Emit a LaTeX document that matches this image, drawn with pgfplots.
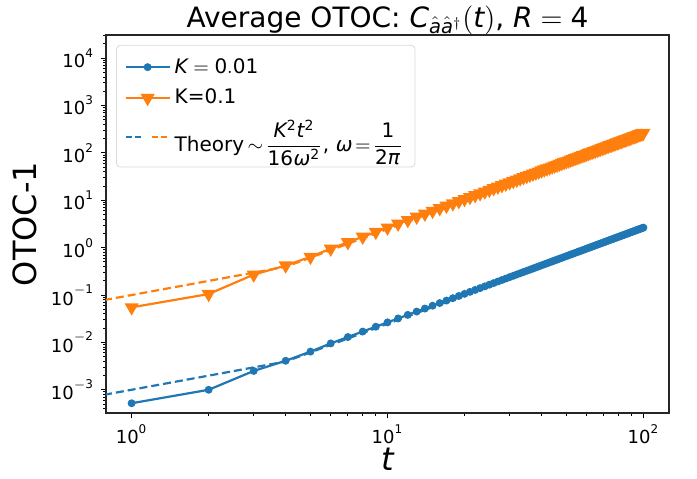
\documentclass[border=0pt]{standalone}
\usepackage{amsmath}
\usepackage{mathspec}
\setmainfont{DejaVu Sans}
\setmathsfont(Digits,Latin,Greek){DejaVu Sans}
\usepackage{pgfplots}
\pgfplotsset{compat=1.18}
\usepackage{pgfplotstable}

\definecolor{mplblue}{HTML}{1F77B4}
\definecolor{mplorange}{HTML}{FF7F0E}

% t, K=0.01, K=0.1
\pgfplotstableread{
t a b
1 5.2e-4 0.055
2 1.0e-3 0.105
3 2.5e-3 0.27
4 4.1e-3 0.42
5 6.4e-3 0.64
6 0.00954 0.954
7 0.01299 1.299
8 0.01696 1.696
9 0.02147 2.147
10 0.0265 2.65
11 0.03207 3.207
12 0.03816 3.816
13 0.04479 4.479
14 0.05194 5.194
15 0.05963 5.963
16 0.06784 6.784
17 0.07659 7.659
18 0.08586 8.586
19 0.09567 9.567
20 0.106 10.6
21 0.1169 11.69
22 0.1283 12.83
23 0.1402 14.02
24 0.1526 15.26
25 0.1656 16.56
26 0.1791 17.91
27 0.1932 19.32
28 0.2078 20.78
29 0.2229 22.29
30 0.2385 23.85
31 0.2547 25.47
32 0.2714 27.14
33 0.2886 28.86
34 0.3063 30.63
35 0.3246 32.46
36 0.3434 34.34
37 0.3628 36.28
38 0.3827 38.27
39 0.4031 40.31
40 0.424 42.4
41 0.4455 44.55
42 0.4675 46.75
43 0.4900 49.0
44 0.5130 51.3
45 0.5366 53.66
46 0.5607 56.07
47 0.5854 58.54
48 0.6106 61.06
49 0.6363 63.63
50 0.6625 66.25
51 0.6893 68.93
52 0.7166 71.66
53 0.7444 74.44
54 0.7727 77.27
55 0.8016 80.16
56 0.8310 83.1
57 0.8610 86.1
58 0.8915 89.15
59 0.9225 92.25
60 0.954 95.4
61 0.9861 98.61
62 1.0187 101.87
63 1.0518 105.18
64 1.0854 108.54
65 1.1196 111.96
66 1.1543 115.43
67 1.1896 118.96
68 1.2254 122.54
69 1.2617 126.17
70 1.2985 129.85
71 1.3359 133.59
72 1.3738 137.38
73 1.4122 141.22
74 1.4511 145.11
75 1.4906 149.06
76 1.5306 153.06
77 1.5712 157.12
78 1.6123 161.23
79 1.6539 165.39
80 1.696 169.6
81 1.7387 173.87
82 1.7819 178.19
83 1.8256 182.56
84 1.8698 186.98
85 1.9146 191.46
86 1.9599 195.99
87 2.0058 200.58
88 2.0522 205.22
89 2.0991 209.91
90 2.1465 214.65
91 2.1945 219.45
92 2.2430 224.3
93 2.2920 229.2
94 2.3415 234.15
95 2.3916 239.16
96 2.4422 244.22
97 2.4934 249.34
98 2.5451 254.51
99 2.5973 259.73
100 2.65 265.0
}\otocdata

% theory curves (as drawn)
\pgfplotstableread{
t c d
0.631 6.35e-4 6.35e-2
4 3.95e-3 0.395
100 2.467 246.7
}\theorydata

\begin{document}
\begin{tikzpicture}
\begin{axis}[
    scale only axis,
    width=281.5pt, height=189pt,
    xmode=log, ymode=log,
    xmin=0.7943, xmax=125.9,
    ymin=3.236e-4, ymax=3.09e4,
    xtick={1,10,100},
    ytick={1e-3,1e-2,1e-1,1,1e1,1e2,1e3,1e4},
    minor ytick={4e-4,5e-4,6e-4,7e-4,8e-4,9e-4,
        2e-3,3e-3,4e-3,5e-3,6e-3,7e-3,8e-3,9e-3,
        2e-2,3e-2,4e-2,5e-2,6e-2,7e-2,8e-2,9e-2,
        0.2,0.3,0.4,0.5,0.6,0.7,0.8,0.9,
        2,3,4,5,6,7,8,9,
        20,30,40,50,60,70,80,90,
        200,300,400,500,600,700,800,900,
        2000,3000,4000,5000,6000,7000,8000,9000,
        2e4,3e4},
    tick pos=left,
    tick align=outside,
    major tick length=2.5pt,
    minor tick length=1.5pt,
    tick style={black, line width=0.5pt},
    axis line style={black!85, line width=0.6pt},
    tick label style={font=\fontsize{9}{10}\selectfont},
    title={Average OTOC: $C_{\hat{a}\hat{a}^{\dagger}}(t)$, $R=4$},
    title style={font=\fontsize{14}{16}\selectfont, anchor=base, at={(0.5,1)}, yshift=-2pt},
    xlabel={$t$},
    xlabel style={font=\fontsize{16}{18}\selectfont, yshift=5pt},
    ylabel={OTOC-1},
    ylabel style={font=\fontsize{16}{18}\selectfont},
    legend style={at={(0.018,0.974)}, anchor=north west,
        draw=black!15, rounded corners=2pt,
        font=\fontsize{10}{12}\selectfont, row sep=2.5pt,
        inner xsep=4pt, inner ysep=4.5pt},
    legend cell align=left,
    legend image code/.code={\draw[mark repeat=2,mark phase=2]
        plot coordinates {(0pt,0pt) (11pt,0pt) (22pt,0pt)};},
]
\addplot[mplblue, dashed, line width=1.1pt, dash pattern=on 4pt off 2pt, forget plot]
    table[x=t, y=c] {\theorydata};
\addplot[mplorange, dashed, line width=1.1pt, dash pattern=on 4pt off 2pt, forget plot]
    table[x=t, y=d] {\theorydata};

\addplot[mplblue, line width=1.1pt, mark=*, mark size=1.4pt]
    table[x=t, y=a] {\otocdata};
\addlegendentry{$K=0.01$}
\addplot[mplorange, line width=1.1pt, mark=triangle*, mark size=3pt,
    mark options={rotate=180}]
    table[x=t, y=b] {\otocdata};
\addlegendentry{K=0.1}
\addlegendimage{legend image code/.code={
    \draw[mplblue, line width=1.1pt, dash pattern=on 3pt off 1.6pt] (0pt,0pt) -- (8.5pt,0pt);
    \draw[mplorange, line width=1.1pt, dash pattern=on 3pt off 1.6pt] (13pt,0pt) -- (22pt,0pt);}}
\addlegendentry{Theory\,$\sim\!\dfrac{K^2t^2}{16\omega^2}$, $\omega\!=\!\dfrac{1}{2\pi}$}
\coordinate (bl) at (rel axis cs:0,0);
\coordinate (tr) at (rel axis cs:1,1);
\end{axis}
\pgfresetboundingbox
\path[use as bounding box] ([xshift=-53pt,yshift=-32.5pt]bl) rectangle ([xshift=14pt,yshift=17.5pt]tr);
\end{tikzpicture}
\end{document}
